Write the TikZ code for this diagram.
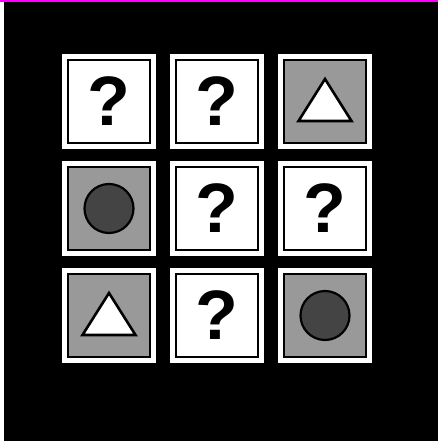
\documentclass[tikz,border=0pt]{standalone}
\usepackage{fontspec}
\setmainfont{Liberation Sans}
\usetikzlibrary{calc}
\definecolor{tilegray}{HTML}{999999}
\definecolor{dotgray}{HTML}{444444}
\definecolor{topbar}{HTML}{FF00FF}
\tikzset{
  outertile/.style={fill=white, draw=none, minimum width=94pt, minimum height=95pt, inner sep=0pt},
  innerwhite/.style={fill=white, draw=black, line width=2.6pt, minimum width=82pt, minimum height=83pt, inner sep=0pt},
  innergray/.style={fill=tilegray, draw=black, line width=2.6pt, minimum width=82pt, minimum height=83pt, inner sep=0pt},
  qmark/.style={font=\fontsize{70}{70}\selectfont\bfseries, inner sep=0pt, text=black},
  dotshape/.style={circle, fill=dotgray, draw=black, line width=2.2pt, minimum size=49pt, inner sep=0pt},
  triangleshape/.style={fill=white, draw=black, line width=2.6pt, line join=miter}
}
\begin{document}
\begin{tikzpicture}[x=1pt,y=-1pt]
\useasboundingbox (0,0) rectangle (438,441);
\fill[black] (0,0) rectangle (438,441);
\fill[topbar] (0,0) rectangle (438,2.3);
\fill[white] (0,2.3) rectangle (3.7,441);
% row 1
\node[outertile] (o11) at (109,101.5) {};
\node[innerwhite] (i11) at (o11) {};
\node[qmark] (q11) at (i11) {?};
\node[outertile] (o12) at (217,101.5) {};
\node[innerwhite] (i12) at (o12) {};
\node[qmark] (q12) at (i12) {?};
\node[outertile] (o13) at (325,101.5) {};
\node[innergray] (i13) at (o13) {};
\draw[triangleshape] ($(i13)+(0,-22.5)$) -- ($(i13)+(-26.5,19.5)$) -- ($(i13)+(26.5,19.5)$) -- cycle;
% row 2
\node[outertile] (o21) at (109,208.5) {};
\node[innergray] (i21) at (o21) {};
\node[dotshape] (c21) at (i21) {};
\node[outertile] (o22) at (217,208.5) {};
\node[innerwhite] (i22) at (o22) {};
\node[qmark] (q22) at (i22) {?};
\node[outertile] (o23) at (325,208.5) {};
\node[innerwhite] (i23) at (o23) {};
\node[qmark] (q23) at (i23) {?};
% row 3
\node[outertile] (o31) at (109,315.5) {};
\node[innergray] (i31) at (o31) {};
\draw[triangleshape] ($(i31)+(0,-22.5)$) -- ($(i31)+(-26.5,19.5)$) -- ($(i31)+(26.5,19.5)$) -- cycle;
\node[outertile] (o32) at (217,315.5) {};
\node[innerwhite] (i32) at (o32) {};
\node[qmark] (q32) at (i32) {?};
\node[outertile] (o33) at (325,315.5) {};
\node[innergray] (i33) at (o33) {};
\node[dotshape] (c33) at (i33) {};
\end{tikzpicture}
\end{document}
